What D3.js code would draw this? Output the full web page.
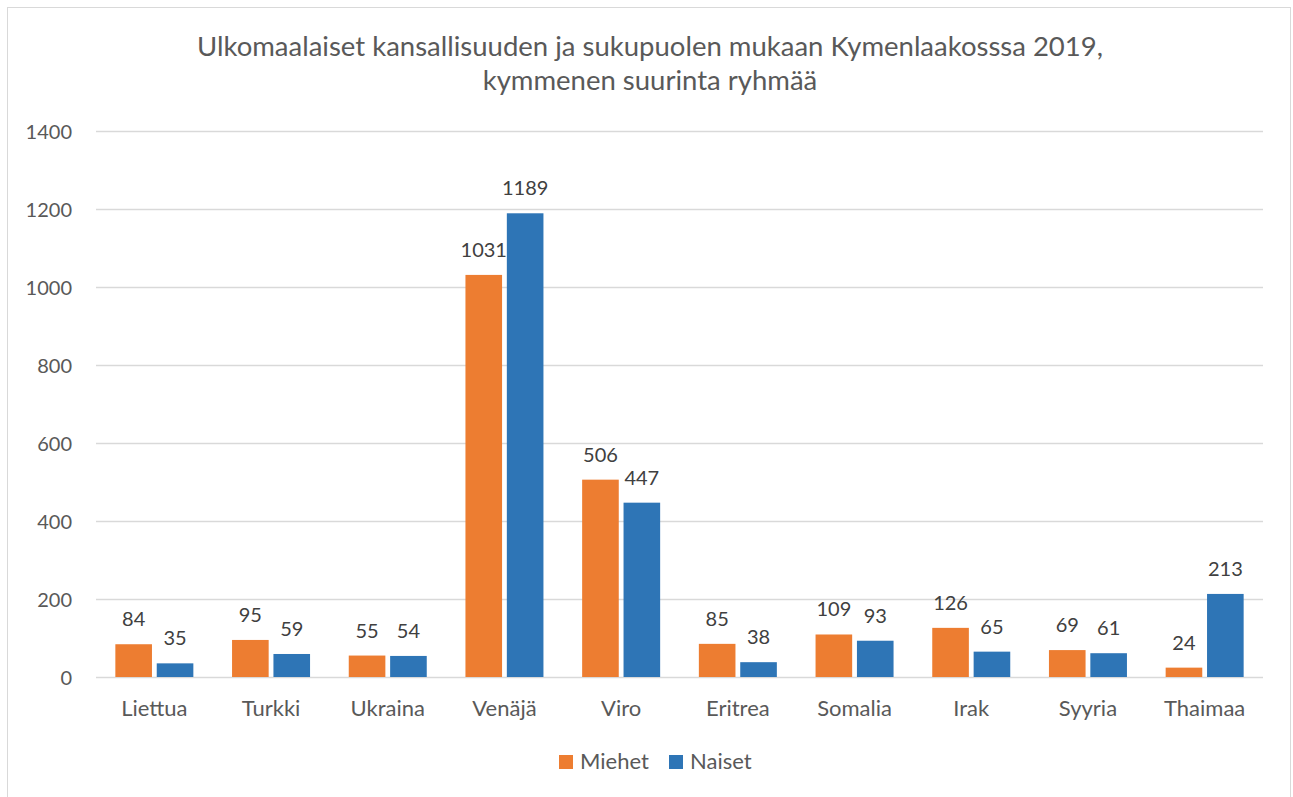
<!DOCTYPE html>
<html><head><meta charset="utf-8">
<script src="https://cdn.jsdelivr.net/npm/d3@7"></script>
<style>body{margin:0;background:#fff;font-family:Lato,"Open Sans",sans-serif;}</style>
</head><body>
<svg id="c" width="1293" height="797"></svg>
<script>
const categories = ["Liettua","Turkki","Ukraina","Venäjä","Viro","Eritrea","Somalia","Irak","Syyria","Thaimaa"];
const miehet = [84,95,55,1031,506,85,109,126,69,24];
const naiset = [35,59,54,1189,447,38,93,65,61,213];
const seriesNames = ["Miehet","Naiset"];
const colors = ["#ED7D31","#2E75B6"];
const yTicks = [0,200,400,600,800,1000,1200,1400];
const titleLines = ["Ulkomaalaiset kansallisuuden ja sukupuolen mukaan Kymenlaakosssa 2019,","kymmenen suurinta ryhmää"];

const svg = d3.select("#c");
const textColor = "#595959";
const ff = "Lato,'Open Sans',sans-serif";
svg.append("rect").attr("x",7.5).attr("y",7.5).attr("width",1283).attr("height",800)
  .attr("fill","#fff").attr("stroke","#d9d9d9").attr("stroke-width",1);

const m = {left:96, right:1263, top:131, bottom:677};
const x = d3.scaleBand().domain(categories).range([m.left,m.right]).paddingInner(0).paddingOuter(0);
const y = d3.scaleLinear().domain([0,1400]).range([m.bottom,m.top]);

// gridlines
svg.append("g").selectAll("line").data(yTicks).join("line")
  .attr("x1",m.left).attr("x2",m.right)
  .attr("y1",d=>y(d)+0.5).attr("y2",d=>y(d)+0.5)
  .attr("stroke","#d9d9d9").attr("stroke-width",1.3);

// y axis
const yAxis = d3.axisLeft(y).tickValues(yTicks).tickSize(0).tickPadding(0).tickFormat(d3.format("d"));
const yg = svg.append("g").attr("transform",`translate(${m.left-24},0)`).call(yAxis);
yg.select(".domain").remove();
yg.selectAll("text").attr("fill",textColor).attr("dy","0.37em").style("font-size","20px").style("font-family",ff);

// x axis
const xAxis = d3.axisBottom(x).tickSize(0).tickPadding(0);
const xg = svg.append("g").attr("transform",`translate(0,${m.bottom})`).call(xAxis);
xg.select(".domain").remove();
xg.selectAll("text").attr("dy",null).attr("y",39).attr("fill",textColor).style("font-size","22px").style("font-family",ff);

const bw = x.bandwidth();
const barW = 34.5, gap = 9;
const sub = d3.scaleBand().domain(seriesNames).range([bw/2 - barW - gap/2, bw/2 + barW + gap/2]).paddingInner(gap/(2*barW+gap));

const data = categories.map((c,i)=>({c, vals:[miehet[i],naiset[i]]}));
const groups = svg.append("g").selectAll("g").data(data).join("g")
  .attr("transform",d=>`translate(${x(d.c)},0)`);
groups.selectAll("rect").data(d=>d.vals.map((v,j)=>({v,s:seriesNames[j],j}))).join("rect")
  .attr("x",d=>sub(d.s)).attr("width",sub.bandwidth())
  .attr("y",d=>y(d.v)).attr("height",d=>y(0)-y(d.v))
  .attr("fill",d=>colors[d.j]);
groups.selectAll("text").data(d=>d.vals.map((v,j)=>({v,s:seriesNames[j],j}))).join("text")
  .attr("x",d=>sub(d.s)+sub.bandwidth()/2).attr("y",d=>y(d.v)-18)
  .attr("text-anchor","middle").attr("fill","#404040")
  .style("font-size","20px").style("font-family",ff).text(d=>d.v);

// title
svg.append("g").selectAll("text").data(titleLines).join("text")
  .attr("x",650).attr("y",(d,i)=>56+i*34).attr("text-anchor","middle")
  .attr("fill",textColor).style("font-size","27.5px").style("font-family",ff).text(d=>d);

// legend
const lg = svg.append("g");
const legendX = [559,669];
seriesNames.forEach((s,i)=>{
  lg.append("rect").attr("x",legendX[i]).attr("y",755).attr("width",14).attr("height",14).attr("fill",colors[i]);
  lg.append("text").attr("x",legendX[i]+21).attr("y",769).attr("fill",textColor).style("font-size","22px").style("font-family",ff).text(s);
});
</script>
</body></html>
